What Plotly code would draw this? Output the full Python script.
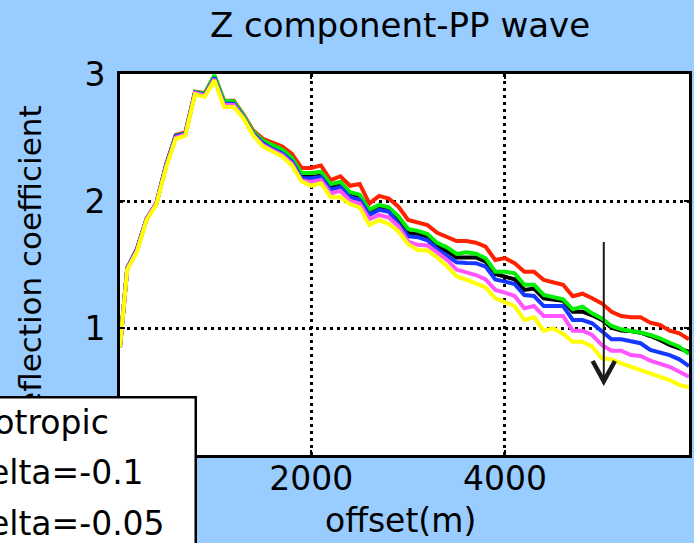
import plotly.graph_objects as go

# ---------------- data ----------------
offset_m = [25, 100, 200, 300, 400, 500, 600, 700, 800, 900,
            1000, 1100, 1200, 1300, 1400, 1500, 1600, 1700, 1800, 1900,
            2000, 2100, 2200, 2300, 2400, 2500, 2600, 2700, 2800, 2900,
            3000, 3100, 3200, 3300, 3400, 3500, 3600, 3700, 3800, 3900,
            4000, 4100, 4200, 4300, 4400, 4500, 4600, 4700, 4800, 4900,
            5000, 5100, 5200, 5300, 5400, 5500, 5600, 5700, 5800, 5900]

isotropic = [0.85, 1.47, 1.62, 1.86, 1.98, 2.28, 2.51, 2.53, 2.855, 2.84,
             2.98, 2.775, 2.775, 2.665, 2.535, 2.46, 2.425, 2.39, 2.32, 2.195,
             2.19, 2.20, 2.11, 2.125, 2.045, 2.04, 1.908, 1.95, 1.93, 1.85,
             1.746, 1.74, 1.715, 1.645, 1.606, 1.556, 1.556, 1.556, 1.522, 1.425,
             1.404, 1.383, 1.30, 1.31, 1.234, 1.225, 1.215, 1.128, 1.128, 1.10,
             1.063, 1.003, 0.98, 0.976, 0.963, 0.937, 0.906, 0.866, 0.84, 0.813]

delta_m010 = [0.85, 1.47, 1.62, 1.86, 1.98, 2.28, 2.52, 2.54, 2.86, 2.85,
              2.985, 2.79, 2.79, 2.68, 2.555, 2.49, 2.46, 2.43, 2.37, 2.26,
              2.26, 2.28, 2.165, 2.195, 2.12, 2.134, 1.98, 2.04, 2.02, 1.955,
              1.85, 1.83, 1.81, 1.75, 1.72, 1.685, 1.685, 1.672, 1.64, 1.535,
              1.55, 1.51, 1.443, 1.443, 1.378, 1.36, 1.34, 1.25, 1.27, 1.234,
              1.194, 1.128, 1.094, 1.084, 1.084, 1.042, 1.024, 0.979, 0.958, 0.911]

delta_m005 = [0.85, 1.47, 1.62, 1.86, 1.98, 2.28, 2.515, 2.535, 2.86, 2.845,
              2.99, 2.79, 2.785, 2.675, 2.545, 2.475, 2.44, 2.405, 2.34, 2.22,
              2.22, 2.23, 2.134, 2.15, 2.07, 2.05, 1.93, 1.97, 1.95, 1.88,
              1.78, 1.765, 1.74, 1.67, 1.635, 1.583, 1.597, 1.585, 1.549, 1.443,
              1.443, 1.43, 1.34, 1.34, 1.26, 1.243, 1.226, 1.147, 1.168, 1.115,
              1.076, 1.016, 0.99, 0.976, 0.965, 0.945, 0.919, 0.884, 0.853, 0.795]

delta_p005 = [0.85, 1.47, 1.62, 1.86, 1.98, 2.28, 2.51, 2.53, 2.855, 2.835,
              2.97, 2.765, 2.765, 2.66, 2.53, 2.455, 2.41, 2.375, 2.31, 2.18,
              2.18, 2.19, 2.09, 2.11, 2.03, 2.01, 1.89, 1.93, 1.916, 1.82,
              1.722, 1.715, 1.69, 1.62, 1.572, 1.517, 1.512, 1.51, 1.483, 1.383,
              1.365, 1.346, 1.26, 1.252, 1.173, 1.173, 1.173, 1.063, 1.063, 1.037,
              0.971, 0.911, 0.911, 0.892, 0.88, 0.827, 0.806, 0.787, 0.753, 0.70]

delta_p010 = [0.85, 1.465, 1.61, 1.86, 1.98, 2.27, 2.50, 2.525, 2.85, 2.83,
              2.96, 2.755, 2.755, 2.655, 2.52, 2.44, 2.40, 2.36, 2.295, 2.16,
              2.15, 2.165, 2.06, 2.08, 2.0, 1.98, 1.856, 1.89, 1.87, 1.80,
              1.68, 1.655, 1.65, 1.59, 1.538, 1.46, 1.435, 1.417, 1.383, 1.30,
              1.278, 1.252, 1.155, 1.173, 1.094, 1.094, 1.094, 0.979, 0.979, 0.945,
              0.866, 0.821, 0.821, 0.787, 0.78, 0.743, 0.722, 0.695, 0.656, 0.617]

delta_p015 = [0.85, 1.46, 1.60, 1.85, 1.97, 2.26, 2.49, 2.515, 2.84, 2.82,
              2.95, 2.74, 2.74, 2.65, 2.515, 2.43, 2.39, 2.35, 2.28, 2.155,
              2.12, 2.14, 2.03, 2.03, 1.975, 1.95, 1.81, 1.85, 1.82, 1.76,
              1.66, 1.614, 1.61, 1.556, 1.488, 1.407, 1.38, 1.35, 1.32, 1.234,
              1.20, 1.173, 1.063, 1.084, 0.979, 0.997, 0.953, 0.892, 0.892, 0.853,
              0.761, 0.753, 0.722, 0.695, 0.669, 0.648, 0.617, 0.59, 0.551, 0.533]

series_names = ["isotropic", "delta=-0.1", "delta=-0.05",
                "delta=0.05", "delta=0.1", "delta=0.15"]
series_values = [isotropic, delta_m010, delta_m005,
                 delta_p005, delta_p010, delta_p015]
series_colors = ["#000000", "#ff2200", "#00ee00",
                 "#1438ff", "#ff55ff", "#ffff00"]

x_ticks = [2000, 4000]
y_ticks = [0, 1, 2, 3]

# ---------------- layout geometry ----------------
W, H = 694, 543
M_L, M_R, M_T, M_B = 120, 5, 74, 88
PLOT_W = W - M_L - M_R
PLOT_H = H - M_T - M_B
FONT = "DejaVu Sans"
BG = "#99ccff"


def paper_x(px):
    return (px - M_L) / PLOT_W


def paper_y(py):
    return (H - M_B - py) / PLOT_H


fig = go.Figure()
for name, vals, col in zip(series_names, series_values, series_colors):
    fig.add_trace(go.Scatter(x=offset_m, y=vals, mode="lines", name=name,
                             line=dict(color=col, width=4),
                             showlegend=False))

axis_common = dict(
    showline=True, linewidth=3, linecolor="black", mirror="ticks",
    ticks="inside", ticklen=5, tickwidth=2, tickcolor="black",
    showgrid=True, gridcolor="black", gridwidth=2.5, griddash="2.5px,4.5px",
    zeroline=False,
    tickfont=dict(family=FONT, size=33, color="black"),
)

fig.update_xaxes(range=[25, 5900], tickvals=x_ticks,
                 ticktext=[str(v) for v in x_ticks],
                 ticklabelstandoff=-8, **axis_common)
fig.update_yaxes(range=[0, 3], tickvals=y_ticks,
                 ticktext=[str(v) for v in y_ticks],
                 ticklabelstandoff=5, **axis_common)

annotations = [
    dict(text="offset(m)", xref="paper", yref="paper",
         x=paper_x(400), y=paper_y(520), xanchor="center", yanchor="middle",
         showarrow=False, font=dict(family=FONT, size=33, color="black")),
    dict(text="reflection coefficient", xref="paper", yref="paper",
         x=paper_x(30), y=paper_y(264), xanchor="center", yanchor="middle",
         textangle=-90, showarrow=False,
         font=dict(family=FONT, size=31, color="black")),
]

# legend box in the lower-left corner (drawn after the y label so it sits on top)
box_left, box_right, box_top, box_bottom = -80, 195, 396, 640
annotations.append(dict(
    text=" ", xref="paper", yref="paper",
    x=paper_x(box_left), y=paper_y(box_top), xanchor="left", yanchor="top",
    width=box_right - box_left - 3, height=box_bottom - box_top,
    bgcolor="white", bordercolor="black", borderwidth=2.5, borderpad=0,
    showarrow=False, font=dict(family=FONT, size=10)))
for i, name in enumerate(series_names):
    row_y = 422 + 50.5 * i
    annotations.append(dict(text=name, xref="paper", yref="paper",
                            x=paper_x(-34), y=paper_y(row_y),
                            xanchor="left", yanchor="middle", showarrow=False,
                            font=dict(family=FONT, size=33, color="black")))

# downward arrow marking the trend
shapes = []
arrow_x = 5020
shapes.append(dict(type="line", xref="x", yref="y", layer="above",
                   x0=arrow_x, x1=arrow_x, y0=1.677, y1=0.58,
                   line=dict(color="#1a1a1a", width=2)))
shapes.append(dict(type="path", xref="x", yref="y", layer="above",
                   path=f"M {arrow_x - 115},0.74 L {arrow_x},0.58 L {arrow_x + 115},0.74",
                   line=dict(color="#1a1a1a", width=4.5)))

fig.update_layout(
    width=W, height=H,
    margin=dict(l=M_L, r=M_R, t=M_T, b=M_B, autoexpand=False),
    paper_bgcolor=BG, plot_bgcolor="white",
    title=dict(text="Z component-PP wave", xref="container", yref="container",
               x=400 / W, y=1 - 25 / H, xanchor="center", yanchor="middle",
               font=dict(family=FONT, size=34, color="black")),
    shapes=shapes, annotations=annotations,
    showlegend=False,
)

fig.write_html("out.html")
